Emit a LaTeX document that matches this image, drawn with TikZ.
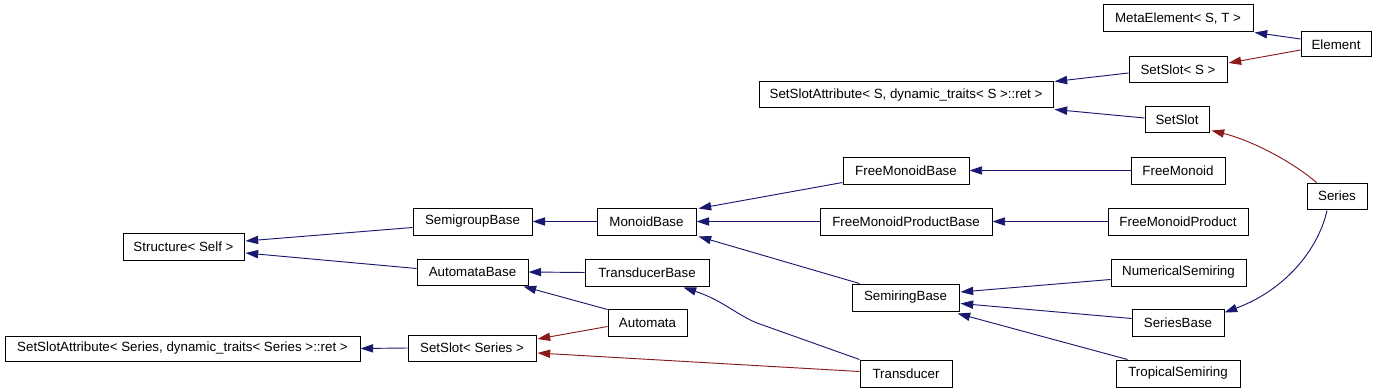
\documentclass[tikz,border=0pt]{standalone}
\usepackage{fontspec}
\setmainfont{Liberation Sans}
\usetikzlibrary{arrows.meta,calc}
\definecolor{dblue}{HTML}{191970}
\definecolor{dred}{HTML}{8B1A1A}
\newcommand\bx[6]{\node[box, minimum width={(#4-#2)*0.75pt}, minimum height={(#5-#3)*0.75pt}] (#1) at ({(#2+#4)/2},{(#3+#5)/2}) {#6};}
\begin{document}
\begin{tikzpicture}[x=0.75pt,y=-0.75pt,
  box/.style={draw=black, line width=0.75pt, fill=white, inner sep=0pt, font=\fontsize{10}{12}\selectfont},
  inh/.style={draw=dblue, line width=0.7pt, -{Triangle[length=9.5pt,width=6.2pt]}},
  prv/.style={draw=dred, line width=0.7pt, -{Triangle[length=9.5pt,width=6.2pt]}}]
\useasboundingbox (0,0) rectangle (1376,392);
\bx{meta}{1103}{5}{1253}{32}{MetaElement< S, T >}
\bx{elem}{1301}{32}{1371}{57}{Element}
\bx{sss}{1129}{57}{1227}{83}{SetSlot< S >}
\bx{ssaS}{759}{82}{1053}{108}{SetSlotAttribute< S, dynamic\_traits< S >::ret >}
\bx{ss}{1145}{107}{1209}{133}{SetSlot}
\bx{fmb}{843}{157}{969}{184}{FreeMonoidBase}
\bx{fm}{1131}{157}{1225}{184}{FreeMonoid}
\bx{ser}{1307}{183}{1367}{209}{Series}
\bx{sgb}{413}{208}{532}{235}{SemigroupBase}
\bx{mb}{597}{208}{696}{235}{MonoidBase}
\bx{fmpb}{820}{208}{992}{235}{FreeMonoidProductBase}
\bx{fmp}{1108}{208}{1248}{235}{FreeMonoidProduct}
\bx{str}{123}{233}{244}{260}{Structure< Self >}
\bx{ab}{417}{259}{528}{285}{AutomataBase}
\bx{tb}{585}{259}{709}{286}{TransducerBase}
\bx{ns}{1111}{259}{1246}{286}{NumericalSemiring}
\bx{srb}{852}{284}{959}{311}{SemiringBase}
\bx{aut}{608}{309}{687}{336}{Automata}
\bx{sb}{1132}{309}{1224}{336}{SeriesBase}
\bx{ssaSer}{5}{336}{360}{361}{SetSlotAttribute< Series, dynamic\_traits< Series >::ret >}
\bx{ssSer}{408}{335}{536}{361}{SetSlot< Series >}
\bx{tr}{860}{360}{952}{387}{Transducer}
\bx{ts}{1116}{360}{1240}{387}{TropicalSemiring}
% edges
\draw[inh] ($(elem.west)+(0,-5.5)$) -- ($(meta.south east)+(1,0)$);
\draw[prv] ($(elem.west)+(0,5.5)$) -- ($(sss.east)+(1,-7)$);
\draw[inh] ($(sss.west)+(0,3)$) -- ($(ssaS.north east)+(1,0)$);
\draw[inh] ($(ss.west)+(0,-2)$) -- ($(ssaS.south east)+(1,1)$);
\draw[prv] ($(ser.north west)+(10,0)$) .. controls (1290,160) and (1250,140) .. ($(ss.south east)+(2,-3)$);
\draw[inh] ($(ser.south)+(-10,1)$) .. controls (1318,250) and (1285,290) .. ($(sb.north east)+(0,4)$);
\draw[inh] (fm.west) -- (fmb.east);
\draw[inh] (fmp.west) -- (fmpb.east);
\draw[inh] ($(ns.west)+(0,7)$) -- ($(srb.east)+(1,-5.5)$);
\draw[inh] ($(sb.west)+(0,-4)$) -- ($(srb.east)+(1,6)$);
\draw[inh] ($(ts.north west)+(12,0)$) -- ($(srb.south east)+(-2,2)$);
\draw[inh] ($(fmb.south west)+(0,-2)$) -- ($(mb.north east)+(2,1)$);
\draw[inh] (fmpb.west) -- (mb.east);
\draw[inh] ($(srb.north west)+(8,0)$) -- ($(mb.south east)+(2,1)$);
\draw[inh] (mb.west) -- (sgb.east);
\draw[inh] ($(sgb.west)+(0,6)$) -- ($(str.east)+(1,-5.5)$);
\draw[inh] ($(ab.west)+(0,-3.5)$) -- ($(str.east)+(1,6.5)$);
\draw[inh] (tb.west) -- (ab.east);
\draw[inh] ($(aut.north west)+(0,1)$) -- ($(ab.south east)+(-5,1)$);
\draw[inh] (tr.north west) -- (757,323) .. controls (737,315) and (722,300) .. ($(tb.south east)+(-26,1)$);
\draw[prv] ($(aut.west)+(0,4)$) -- ($(ssSer.east)+(1,-9)$);
\draw[prv] ($(tr.west)+(0,-2)$) -- ($(ssSer.east)+(1,5)$);
\draw[inh] (ssSer.west) -- (ssaSer.east);
\end{tikzpicture}
\end{document}
